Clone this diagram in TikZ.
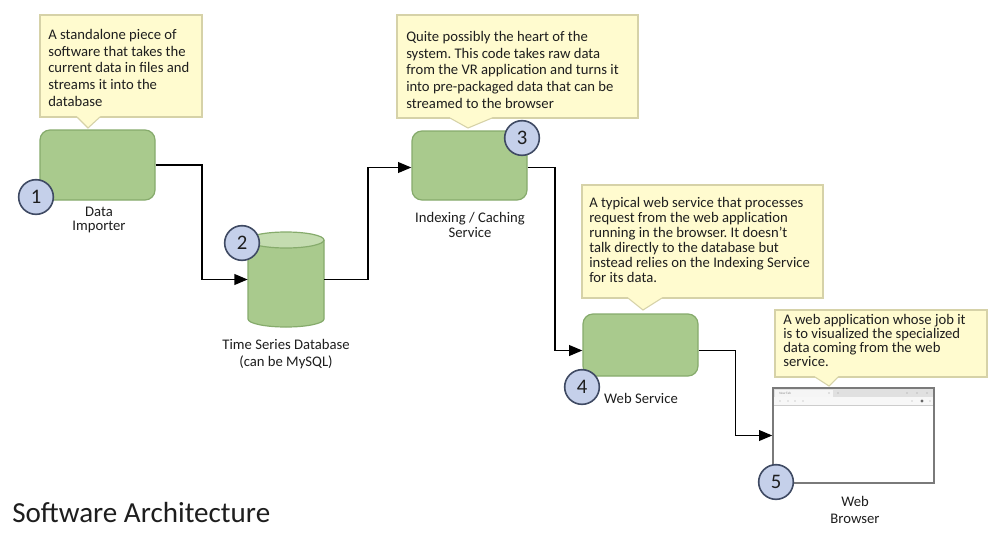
\documentclass[tikz,border=0pt]{standalone}
\usepackage{fontspec}
\setmainfont{Carlito}
\usetikzlibrary{calc,arrows.meta,fit}
\definecolor{callfill}{HTML}{FFFBCF}
\definecolor{callline}{HTML}{D6D2A8}
\definecolor{boxfill}{HTML}{A9CA8D}
\definecolor{boxline}{HTML}{86AB6C}
\definecolor{topfill}{HTML}{C4DCB0}
\definecolor{numfill}{HTML}{C5D0EA}
\definecolor{numline}{HTML}{3F4A63}
\definecolor{txt}{HTML}{1E1E1E}
\definecolor{brline}{HTML}{7A7A7A}
\frenchspacing
\begin{document}
\begin{tikzpicture}[x=0.75pt,y=-0.75pt,
  callout/.style={draw=callline, fill=callfill, line width=0.8pt, inner sep=0pt},
  calltext/.style={anchor=north west, inner sep=0pt, align=left, text=txt},
  greenbox/.style={draw=boxline, fill=boxfill, rounded corners=7.5pt, line width=0.9pt, inner sep=0pt},
  numcirc/.style={circle, draw=numline, fill=numfill, line width=1.2pt, minimum size=26pt, inner sep=0pt, font=\fontsize{15.5}{16}\selectfont, text=txt},
  lbl/.style={anchor=north, inner sep=0pt, align=center, text=txt},
  conn/.style={draw=black, line width=1.4pt, -{Triangle[length=10pt,width=8pt]}}
]
\useasboundingbox (0,0) rectangle (1000,536);
\fill[white] (0,0) rectangle (1000,536);

% ---------- callouts ----------
\node[callout, fit={(40,15) (202,117)}] (c1) {};
\fill[callfill] (77,116) -- (77,117) -- (88,128) -- (100,117) -- (100,116) -- cycle;
\draw[callline, line width=0.8pt] (77,117) -- (88,128) -- (100,117);

\node[callout, fit={(397,15) (638,118)}] (c3) {};
\fill[callfill] (450,117) -- (450,118) -- (468,128) -- (492,118) -- (492,117) -- cycle;
\draw[callline, line width=0.8pt] (450,118) -- (468,128) -- (492,118);

\node[callout, fit={(582,185) (823,298)}] (c4) {};
\fill[callfill] (628,297) -- (628,298) -- (643,310) -- (662,298) -- (662,297) -- cycle;
\draw[callline, line width=0.8pt] (628,298) -- (643,310) -- (662,298);

\node[callout, fit={(775,310) (987,377)}] (c5) {};
\fill[callfill] (815,376) -- (815,377) -- (829,386) -- (838,377) -- (838,376) -- cycle;
\draw[callline, line width=0.8pt] (815,377) -- (829,386) -- (838,377);

% ---------- boxes ----------
\node[greenbox, fit={(40,130) (155,200)}] (b1) {};
\node[greenbox, fit={(412,131) (527,200)}] (b3) {};
\node[greenbox, fit={(583,314) (698,376)}] (b4) {};

% ---------- cylinder ----------
\node[inner sep=0pt, fit={(248,232) (324,327)}] (db) {};
\fill[boxfill] (248,240) -- (248,319) arc[start angle=180, end angle=0, x radius=38, y radius=8] -- (324,240) -- cycle;
\draw[boxline, line width=0.9pt] (248,240) -- (248,319) arc[start angle=180, end angle=0, x radius=38, y radius=8] -- (324,240);
\draw[boxline, fill=topfill, line width=0.9pt] (286,240) ellipse[x radius=38, y radius=8];

% ---------- browser ----------
\node[draw=brline, fill=white, line width=1pt, inner sep=0pt, fit={(773,388) (934,483)}] (br) {};
\fill[black!12] (774,389) rectangle (933,397);
\fill[black!4] (775,389.5) rectangle (833,397);
\fill[black!3] (774,397) rectangle (933,405);
\draw[black!20, line width=0.3pt] (774,405) -- (933,405);
\node[inner sep=0pt, text=black!45, font=\fontsize{2.5}{3}\selectfont, anchor=west] at (779,393) {New Tab};
\foreach \xx in {829,838,907,917,927}
  \fill[black!40] (\xx,393) circle[radius=0.7];
\foreach \xx in {780,788,795,803,912,930}
  \fill[black!35] (\xx,401) circle[radius=0.7];
\fill[black!60] (922,401) circle[radius=1.6];

% ---------- connectors ----------
\draw[conn] (b1.east) -| ($(b1.east)!.5!(db.west)$) |- (db.west);
\draw[conn] (db.east) -| ($(db.east)!.5!(b3.west)$) |- ($(b3.west)+(0,2)$);
\draw[conn] ($(b3.east)+(0,2)$) -| ($(b3.east)!.5!(b4.west)$) |- ($(b4.west)+(0,5.5)$);
\draw[conn] ($(b4.east)+(0,5.5)$) -| ($(b4.east)!.5!(br.west)$) |- (br.west);

% ---------- numbered circles ----------
\node[numcirc] (n1) at (36,197) {1};
\node[numcirc] (n2) at (242,243) {2};
\node[numcirc] (n3) at (522,138) {3};
\node[numcirc] (n4) at (582,387) {4};
\node[numcirc] (n5) at (776,482) {5};

% ---------- callout texts ----------
\node[calltext, font=\fontsize{11}{12.5}\selectfont] (t1) at (48,29)
  {A standalone piece of\\software that takes the\\current data in files and\\streams it into the\\database};
\node[calltext, font=\fontsize{11}{12.5}\selectfont] (t3) at (406,31)
  {Quite possibly the heart of the\\system. This code takes raw data\\from the VR application and turns it\\into pre-packaged data that can be\\streamed to the browser};
\node[calltext, font=\fontsize{11}{11.25}\selectfont] (t4) at (589,197)
  {A typical web service that processes\\request from the web application\\running in the browser. It doesn’t\\talk directly to the database but\\instead relies on the Indexing Service\\for its data.};
\node[calltext, font=\fontsize{11}{10.5}\selectfont] (t5) at (783,314)
  {A web application whose job it\\is to visualized the specialized\\data coming from the web\\service.};

% ---------- labels ----------
\node[lbl, font=\fontsize{11}{10.3}\selectfont] (l1) at (99,207) {Data\\Importer};
\node[lbl, font=\fontsize{11}{12.5}\selectfont] (l2) at (286,339) {Time Series Database\\(can be MySQL)};
\node[lbl, font=\fontsize{11}{11.25}\selectfont] (l3) at (470,212) {Indexing / Caching\\Service};
\node[lbl, font=\fontsize{11}{12.5}\selectfont] (l4) at (641,393) {Web Service};
\node[lbl, font=\fontsize{11}{12.5}\selectfont] (l5) at (855,496) {Web\\Browser};

% ---------- title ----------
\node[anchor=base west, inner sep=0pt, text=txt, font=\fontsize{21.8}{24}\selectfont] (title) at (12,522) {Software Architecture};
\end{tikzpicture}
\end{document}
